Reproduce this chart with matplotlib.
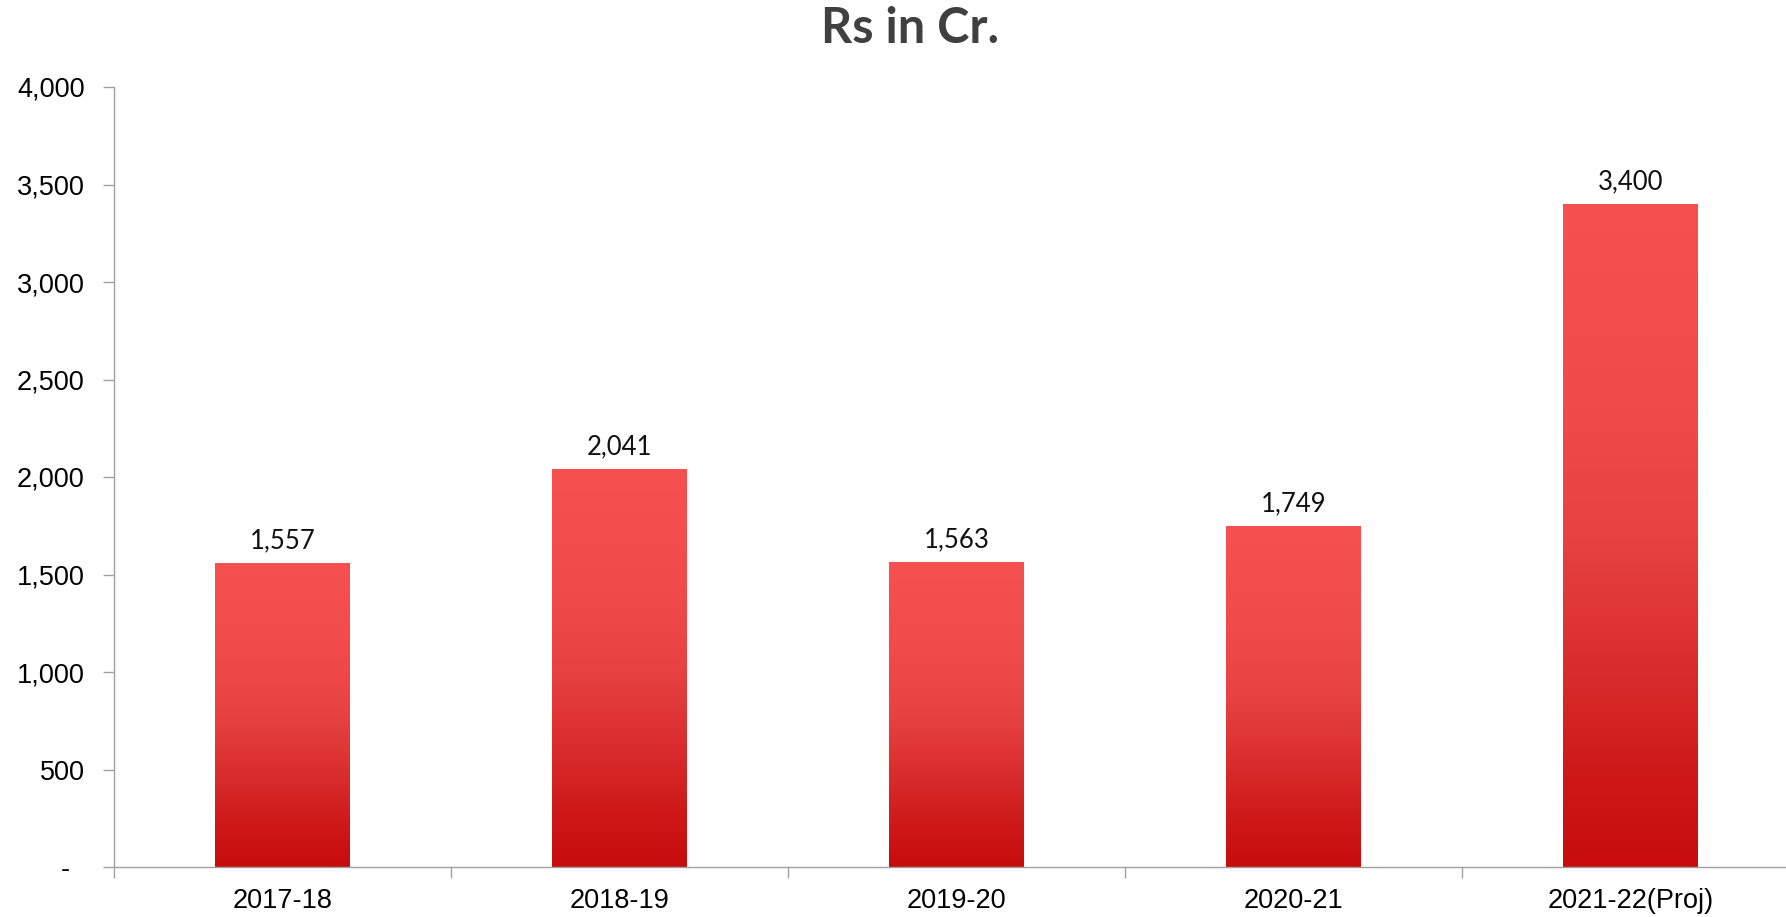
import numpy as np
import matplotlib
matplotlib.use("Agg")
import matplotlib.pyplot as plt
from matplotlib.colors import LinearSegmentedColormap
from matplotlib.ticker import FixedLocator, FuncFormatter

categories = ["2017-18", "2018-19", "2019-20", "2020-21", "2021-22(Proj)"]
values = [1557, 2041, 1563, 1749, 3400]
yticks = [0, 500, 1000, 1500, 2000, 2500, 3000, 3500, 4000]
title = "Rs in Cr."

fig = plt.figure(figsize=(17.86, 9.17), dpi=100)
ax = fig.add_axes([114/1786, 50/917, 1685/1786, 780/917])

cmap = LinearSegmentedColormap.from_list(
    "redgrad",
    [(0.0, "#C80C0C"), (0.15, "#CF1A1A"), (0.3, "#D92D2D"), (0.5, "#E84242"),
     (0.7, "#F04A4A"), (1.0, "#F75050")])

x = np.arange(len(categories))
bars = ax.bar(x, values, width=0.40, color="none", edgecolor="none", zorder=2)
grad = np.linspace(0, 1, 256).reshape(-1, 1)
for b in bars:
    x0, y0 = b.get_x(), b.get_y()
    w, h = b.get_width(), b.get_height()
    im = ax.imshow(grad, extent=[x0, x0 + w, y0, y0 + h], origin="lower",
                   aspect="auto", cmap=cmap, zorder=2, interpolation="bilinear")
    im.set_clip_path(b)

for xi, v in zip(x, values):
    ax.annotate(f"{v:,}", (xi, v), xytext=(0, 10.5), textcoords="offset points",
                ha="center", va="baseline", fontsize=18.5, family="Lato",
                fontweight="normal", color="#111111")

ax.set_xlim(-0.5, len(categories) - 0.5)
ax.set_ylim(0, 4000)

ax.set_yticks(yticks)
ax.yaxis.set_major_formatter(FuncFormatter(lambda v, p: "-  " if v == 0 else f"{int(v):,}"))
ax.tick_params(axis="y", length=8, width=1, color="#A0A0A0", pad=13,
               labelsize=19.5, labelcolor="#000000")
for lab in ax.get_yticklabels():
    lab.set_family("Liberation Sans")

ax.set_xticks(x)
ax.set_xticklabels(categories, family="Liberation Sans")
ax.tick_params(axis="x", which="major", length=0, pad=15, labelsize=19.5,
               labelcolor="#000000")
ax.xaxis.set_minor_locator(FixedLocator(np.arange(-0.5, len(categories), 1.0)))
ax.tick_params(axis="x", which="minor", length=8, width=1, color="#A0A0A0")

for s in ["top", "right"]:
    ax.spines[s].set_visible(False)
for s in ["left", "bottom"]:
    ax.spines[s].set_color("#A0A0A0")
    ax.spines[s].set_linewidth(1)

fig.text(910/1786, 1 - 43/917, title, ha="center", va="baseline",
         fontsize=35, fontweight="bold", family="Lato", color="#404040")

fig.savefig("out.png", dpi=100)
